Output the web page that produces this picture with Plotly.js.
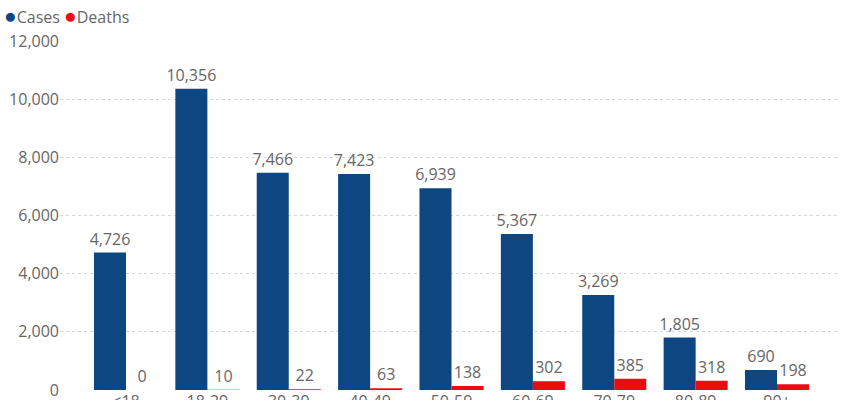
<!DOCTYPE html>
<html>
<head>
<meta charset="utf-8">
<script src="https://cdn.plot.ly/plotly-3.0.1.min.js"></script>
<style>
html, body { margin: 0; padding: 0; overflow: hidden; background: #fff; }
#chart { width: 846px; height: 420px; }
</style>
</head>
<body>
<div id="chart"></div>
<script>
const ageGroups = ["<18", "18-29", "30-39", "40-49", "50-59", "60-69", "70-79", "80-89", "90+"];
const cases = [4726, 10356, 7466, 7423, 6939, 5367, 3269, 1805, 690];
const deaths = [0, 10, 22, 63, 138, 302, 385, 318, 198];

const caseColor = "#0D4680";
const deathColor = "#EE0A12";
const textGrey = "#666666";
const fontFam = "Open Sans, Noto Sans, sans-serif";

const traces = [
  {
    type: "bar", name: "Cases", x: ageGroups, y: cases,
    marker: { color: caseColor },
    text: cases.map(v => v.toLocaleString("en-US")),
    textposition: "outside", cliponaxis: false, constraintext: "none",
    textfont: { color: textGrey, size: 16, family: fontFam },
    hoverinfo: "skip"
  },
  {
    type: "bar", name: "Deaths", x: ageGroups, y: deaths,
    marker: { color: deathColor },
    text: deaths.map(v => v.toLocaleString("en-US")),
    textposition: "outside", cliponaxis: false, constraintext: "none",
    textfont: { color: textGrey, size: 16, family: fontFam },
    hoverinfo: "skip"
  }
];

const layout = {
  width: 846, height: 420,
  margin: { l: 60, r: 6, t: 41, b: 30 },
  paper_bgcolor: "#fff", plot_bgcolor: "#fff",
  barmode: "group", bargap: 0.213, bargroupgap: 0,
  showlegend: false,
  font: { family: fontFam, color: textGrey, size: 16 },
  xaxis: {
    type: "category", range: [-0.811, 8.774],
    showgrid: false, zeroline: false, showline: false, ticks: "",
    tickfont: { size: 16, color: textGrey, family: fontFam }
  },
  yaxis: {
    range: [0, 12000], dtick: 2000, tickformat: ",",
    showgrid: true, gridcolor: "#d6d6d6", griddash: "dot", gridwidth: 1,
    zeroline: false, showline: false, ticks: "",
    tickfont: { size: 16, color: textGrey, family: fontFam }
  },
  annotations: [{
    xref: "paper", yref: "paper", x: 0, y: 1,
    xanchor: "left", yanchor: "middle", xshift: -58, yshift: 26,
    showarrow: false,
    text: "<span style='color:" + caseColor + ";font-size:21px'>●</span>Cases <span style='color:" + deathColor + ";font-size:21px'>●</span>Deaths",
    font: { size: 16, color: textGrey, family: fontFam }
  }]
};

Plotly.newPlot("chart", traces, layout, { displayModeBar: false, staticPlot: true });
</script>
</body>
</html>
